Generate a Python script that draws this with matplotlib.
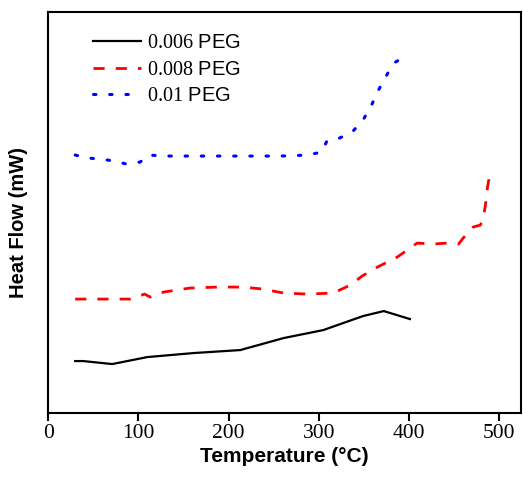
import numpy as np
import matplotlib.pyplot as plt

plt.rcParams['mathtext.fontset'] = 'custom'
plt.rcParams['mathtext.rm'] = 'Liberation Serif'

# temperatures (C) and heat flow (arbitrary units)
t_006 = [30, 39, 71, 110, 161, 213, 261, 305, 349, 372, 401]
hf_006 = [52, 52, 49, 56, 60, 63, 75, 83, 97, 102, 94]

t_008 = [30, 91, 107, 113, 128, 157, 187, 216, 238, 261, 287, 316, 335, 348,
         365, 387, 409, 427, 442, 455, 460, 471, 479, 482, 485, 487, 489, 493]
hf_008 = [114, 114, 119, 116, 121, 125, 126, 126, 124, 120, 119, 120, 128, 137,
          146, 156, 170, 169, 170, 169, 175, 186, 188, 193, 210, 226, 236, 233]

t_01 = [30, 44, 59, 73, 87, 102, 112, 128, 160, 200, 243, 257, 288, 303,
        309, 323, 337, 349, 358, 365, 374, 383, 395]
hf_01 = [258, 255, 254, 252, 249, 251, 258, 257, 257, 257, 257, 257, 258, 261,
         272, 275, 281, 293, 307, 321, 336, 350, 356]

labels = [r'$\mathrm{0.006}$ PEG', r'$\mathrm{0.008}$ PEG', r'$\mathrm{0.01}$ PEG']
xticks = [0, 100, 200, 300, 400, 500]

fig = plt.figure(figsize=(5.23, 4.82), dpi=100)
ax = fig.add_axes([0.092, 0.143, 0.904, 0.832])

ax.plot(t_006, hf_006, color='black', lw=1.6, label=labels[0])
ax.plot(t_008, hf_008, color='red', lw=2, dashes=(4, 4), label=labels[1])
ax.plot(t_01, hf_01, color='blue', lw=2.2, linestyle=(0, (0.8, 4.5)),
        dash_capstyle='round', label=labels[2])

ax.set_xlim(0, 524)
ax.set_ylim(0, 401)
ax.set_xticks(xticks)
ax.set_xticklabels([str(v) for v in xticks], family='Liberation Serif', fontsize=15.5)
ax.set_yticks([])
ax.tick_params(axis='x', direction='out', length=6, width=1.5, pad=2)
for s in ax.spines.values():
    s.set_linewidth(1.5)

ax.set_xlabel('Temperature (°C)', family='Liberation Sans', fontweight='bold',
              fontsize=15, labelpad=3)
ax.set_ylabel('Heat Flow (mW)', family='Liberation Sans', fontweight='bold',
              fontsize=14.5)
ax.yaxis.set_label_coords(-0.042, 0.476)

leg = ax.legend(loc='upper left', bbox_to_anchor=(0.095, 0.947), frameon=False,
                prop={'family': 'Liberation Sans', 'size': 14.5},
                handlelength=2.4, handletextpad=0.3, labelspacing=0.36,
                borderpad=0, borderaxespad=0)

fig.savefig('out.png', dpi=100)
